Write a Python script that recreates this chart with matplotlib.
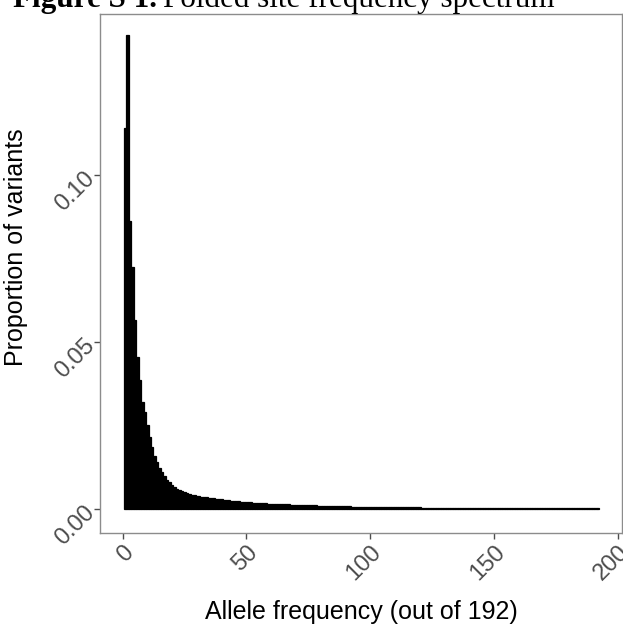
import numpy as np
import matplotlib.pyplot as plt

# folded SFS, proportion of variants per allele count
allele_count = np.arange(1, 193)
proportion = [
    0.1140, 0.1420, 0.0862, 0.0725, 0.0566, 0.0455, 0.0386, 0.0320, 0.0290, 0.0250,
    0.0215, 0.0185, 0.0160, 0.0140, 0.0124, 0.0110, 0.0098, 0.0088, 0.0080, 0.0072,
    0.0066, 0.0061, 0.0057, 0.0053, 0.0050, 0.0047, 0.0045, 0.0043, 0.0041, 0.0040,
    0.0038, 0.0037, 0.0036, 0.0035, 0.0034, 0.0033, 0.0032, 0.0031, 0.0030, 0.0029,
    0.0028, 0.0027, 0.0026, 0.0025, 0.0024, 0.0024, 0.0023, 0.0022, 0.0021, 0.0021,
    0.0020, 0.0020, 0.0019, 0.0019, 0.0018, 0.0018, 0.0017, 0.0017, 0.0016, 0.0016,
    0.0016, 0.0015, 0.0015, 0.0015, 0.0014, 0.0014, 0.0014, 0.0013, 0.0013, 0.0013,
    0.0012, 0.0012, 0.0012, 0.0012, 0.0011, 0.0011, 0.0011, 0.0011, 0.0010, 0.0010,
    0.0010, 0.0010, 0.0009, 0.0009, 0.0009, 0.0009, 0.0009, 0.0008, 0.0008, 0.0008,
    0.0008, 0.0008, 0.0007, 0.0007, 0.0007, 0.0007, 0.0007, 0.0007, 0.0006, 0.0006,
    0.0006, 0.0006, 0.0006, 0.0006, 0.0006, 0.0006, 0.0005, 0.0005, 0.0005, 0.0005,
    0.0005, 0.0005, 0.0005, 0.0005, 0.0005, 0.0005, 0.0005, 0.0005, 0.0005, 0.0005,
    0.0004, 0.0004, 0.0004, 0.0004, 0.0004, 0.0004, 0.0004, 0.0004, 0.0004, 0.0004,
    0.0004, 0.0004, 0.0004, 0.0004, 0.0004, 0.0004, 0.0004, 0.0004, 0.0004, 0.0004,
    0.0004, 0.0004, 0.0004, 0.0004, 0.0004, 0.0004, 0.0004, 0.0004, 0.0004, 0.0004,
    0.0003, 0.0003, 0.0003, 0.0003, 0.0003, 0.0003, 0.0003, 0.0003, 0.0003, 0.0003,
    0.0003, 0.0003, 0.0003, 0.0003, 0.0003, 0.0003, 0.0003, 0.0003, 0.0003, 0.0003,
    0.0003, 0.0003, 0.0003, 0.0003, 0.0003, 0.0003, 0.0003, 0.0003, 0.0003, 0.0003,
    0.0003, 0.0003, 0.0003, 0.0003, 0.0003, 0.0003, 0.0003, 0.0003, 0.0003, 0.0003,
    0.0003, 0.0003,
]
x_ticks = [0, 50, 100, 150, 200]
y_ticks = [0.00, 0.05, 0.10]
y_labels = ['0.00', '0.05', '0.10']

plt.rcParams['font.family'] = ['Liberation Sans', 'DejaVu Sans']

fig = plt.figure(figsize=(6.23, 6.24), dpi=100)
ax = fig.add_axes([100/623, 91/624, 522/623, 519/624])

ax.bar(allele_count, proportion, width=1.0, color='black',
       edgecolor='black', linewidth=0.9)

ax.set_xlim(-9.1, 201.8)
ax.set_ylim(-0.0072, 0.1482)
ax.set_xticks(x_ticks)
ax.set_yticks(y_ticks)
ax.set_yticklabels(y_labels)

grey = '#4D4D4D'
for s in ax.spines.values():
    s.set_color('#8C8C8C')
    s.set_linewidth(1.0)
ax.tick_params(axis='both', colors=grey, labelsize=17, length=4, width=1.0,
               labelcolor=grey, pad=2)
ax.tick_params(axis='x', labelrotation=45)
ax.tick_params(axis='y', labelrotation=45)
for lab in ax.get_xticklabels():
    lab.set_ha('right')
    lab.set_va('top')
    lab.set_rotation_mode('anchor')
for lab in ax.get_yticklabels():
    lab.set_ha('right')
    lab.set_va('center')
    lab.set_rotation_mode('anchor')

ax.set_xlabel('Allele frequency (out of 192)', fontsize=18)
ax.set_ylabel('Proportion of variants', fontsize=18)
ax.xaxis.set_label_coords(0.5, -0.129)
ax.yaxis.set_label_coords(-0.138, 0.551)
ax.xaxis.label.set_va('top')
ax.yaxis.label.set_va('bottom')

# caption, cut off at the top like the scanned page
base = 1 - 7/624
t1 = fig.text(13/623, base, 'Figure S 1.', family='Liberation Serif',
              fontweight='bold', fontsize=22.4, va='baseline', ha='left')
fig.canvas.draw()
bb = t1.get_window_extent()
fig.text((bb.x1 + 6)/623, base, 'Folded site frequency spectrum',
         family='Liberation Serif', fontsize=22.4, va='baseline', ha='left')

fig.savefig('out.png', dpi=100)
